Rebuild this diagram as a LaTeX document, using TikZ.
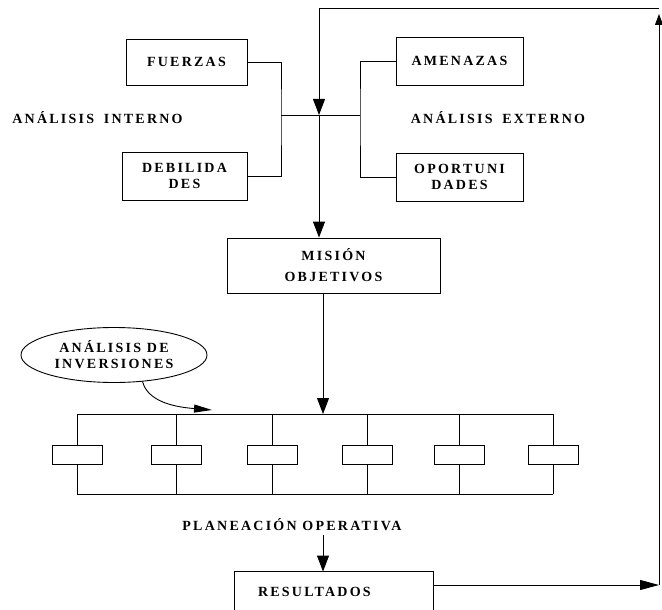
\documentclass[tikz,border=0pt]{standalone}
\usepackage{fontspec}
\setmainfont{Liberation Serif}[LetterSpace=16]
\usetikzlibrary{arrows.meta,shapes.geometric}

\tikzset{
  caja/.style={draw, line width=0.9pt, inner sep=0pt, align=center},
  texto/.style={font=\bfseries\fontsize{14}{16}\selectfont},
  flecha/.style={-{Triangle[length=16pt,width=12pt]}},
}

\begin{document}
\begin{tikzpicture}[x=1pt,y=-1pt,line width=0.9pt,texto]
    \useasboundingbox (0,0) rectangle (662,610);

    % Internal analysis
    \node[caja,minimum width=121pt,minimum height=46pt] (fue) at (186.5,62) {FUERZAS};
    \node[caja,minimum width=125pt,minimum height=48pt] (deb) at (184.5,176) {DEBILIDA\\DES};
    \node (ai) at (97.5,118) {ANÁLISIS\hspace{4pt} INTERNO};

    % External analysis
    \node[caja,minimum width=127pt,minimum height=48pt] (ame) at (459.5,61) {AMENAZAS};
    \node[caja,minimum width=127pt,minimum height=48pt] (opo) at (459.5,177) {OPORTUNI\\DADES};
    \node (ae) at (498,118) {ANÁLISIS\hspace{4pt} EXTERNO};

    % Brackets
    \coordinate (lb) at (281,115);
    \coordinate (rb) at (360,115);
    \coordinate (jn) at (319,115);
    \draw (fue.east) -| (lb) |- (deb.east);
    \draw (ame.west) -| (rb) |- (opo.west);
    \draw (lb) -- (rb);

    % Mission
    \node[caja,minimum width=213pt,minimum height=55pt] (mis) at (333.5,265.5) {MISIÓN\\[5pt]OBJETIVOS};
    \draw[flecha] (jn) -- (jn |- mis.north);

    % Feedback loop
    \coordinate (rc) at (659,585);
    \coordinate (ru) at (659,14);
    \coordinate (tr) at (659,8);
    \coordinate (tl) at (319,8);
    \draw[flecha] (tr) -- (tl) -- (jn);

    % Investment analysis
    \node[draw,ellipse,minimum width=186pt,minimum height=55pt,inner sep=0pt,align=center] (inv) at (114,355) {ANÁLISIS DE\\INVERSIONES};
    \coordinate (it) at (212,410);
    \draw[-{Triangle[length=18pt,width=8pt]}] (inv.-43) .. controls (148,402) and (175,407) .. (it);

    % Operative plan bar
    \coordinate (bt) at (323,414);
    \draw[flecha] (mis.south -| bt) -- (bt);
    \draw (77,414) -- (553,414);
    \draw (77,494) -- (553,494);
    \foreach \x [count=\i] in {77,176,272,367,459,553} {
        \node[caja,fill=white,minimum width=50pt,minimum height=19pt] (sb\i) at (\x,454.5) {};
        \draw (\x,414) -- (sb\i.north);
        \draw (sb\i.south) -- (\x,494);
    }
    \node (plan) at (292,525) {PLANEACIÓN OPERATIVA};

    % Results
    \node[minimum width=198pt,minimum height=40pt,text width=152pt,inner xsep=23pt,align=left] (res) at (334,592) {RESULTADOS};
    \draw (res.south west) -- (res.north west) -- (res.north east) -- (res.south east);
    \draw[flecha] (plan.south -| bt) -- (res.north -| bt);
    \draw[-{Triangle[length=19pt,width=10pt]}] (res.east |- rc) -- (rc);
    \draw[-{Triangle[length=11pt,width=8pt]}] (rc) -- (ru);
\end{tikzpicture}
\end{document}
